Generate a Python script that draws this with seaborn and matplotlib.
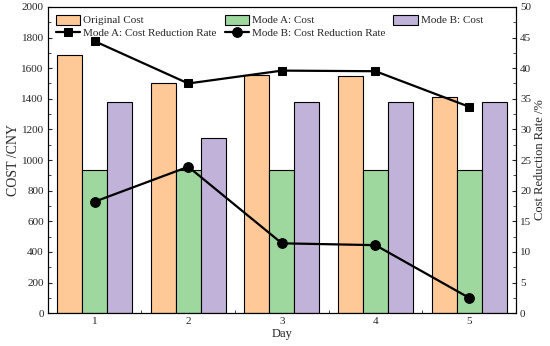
import matplotlib
matplotlib.use('Agg')
import matplotlib.pyplot as plt
from matplotlib.patches import Patch
from matplotlib.ticker import MultipleLocator
import numpy as np
import pandas as pd
import seaborn as sns

# data
days = ['1', '2', '3', '4', '5']
original_cost = [1686, 1500, 1556, 1549, 1412]
mode_a_cost = [935, 935, 935, 935, 935]
mode_b_cost = [1376, 1144, 1376, 1376, 1376]
mode_a_rate = [44.4, 37.5, 39.6, 39.5, 33.7]
mode_b_rate = [18.2, 23.9, 11.4, 11.1, 2.5]

series_names = ['Original Cost', 'Mode A: Cost', 'Mode B: Cost']
colors = ['#FEC897', '#9ED89E', '#C1B2D9']

df = pd.DataFrame({
    'Day': days * 3,
    'Cost': original_cost + mode_a_cost + mode_b_cost,
    'Series': sum([[s] * len(days) for s in series_names], []),
})

sns.set_theme(style='ticks')
plt.rcParams['font.family'] = ['Liberation Serif', 'DejaVu Serif']
plt.rcParams['xtick.direction'] = 'in'
plt.rcParams['ytick.direction'] = 'in'

fig = plt.figure(figsize=(5.5, 3.46), dpi=100)
ax = fig.add_axes([0.087, 0.095, 0.851, 0.885])

sns.barplot(data=df, x='Day', y='Cost', hue='Series', palette=colors,
            edgecolor='black', linewidth=0.8, saturation=1, ax=ax,
            width=0.8, legend=False)
ax.set_xlim(-0.5, 4.5)
ax.set_ylim(0, 2000)
ax.yaxis.set_major_locator(MultipleLocator(200))
ax.yaxis.set_minor_locator(MultipleLocator(100))
ax.set_xticks(np.arange(len(days)) + 0.5, minor=True)
ax.set_xlabel('Day', fontsize=9, labelpad=1)
ax.set_ylabel('COST /CNY', fontsize=10, labelpad=1)
ax.tick_params(labelsize=8, length=3, width=0.8, pad=3)
ax.tick_params(which='minor', length=2, width=0.6)

ax2 = ax.twinx()
x_pos = np.arange(len(days))
sns.lineplot(x=x_pos, y=mode_a_rate, ax=ax2, color='black', marker='s',
             markersize=6, linewidth=1.6, markeredgecolor='black',
             label='Mode A: Cost Reduction Rate', legend=False)
sns.lineplot(x=x_pos, y=mode_b_rate, ax=ax2, color='black', marker='o',
             markersize=7, linewidth=1.6, markeredgecolor='black',
             label='Mode B: Cost Reduction Rate', legend=False)
ax2.set_ylim(0, 50)
ax2.yaxis.set_major_locator(MultipleLocator(5))
ax2.yaxis.set_minor_locator(MultipleLocator(2.5))
ax2.set_ylabel('Cost Reduction Rate /%', fontsize=9, labelpad=2)
ax2.tick_params(labelsize=8, length=3, width=0.8, pad=3)
ax2.tick_params(which='minor', length=2, width=0.6)
ax.set_xticklabels(days)

for a in (ax, ax2):
    for sp in a.spines.values():
        sp.set_linewidth(0.8)
        sp.set_color('black')

# legend: bars in row 1, lines in row 2
bar_handles = [Patch(facecolor=c, edgecolor='black', linewidth=0.8) for c in colors]
line_handles, line_labels = ax2.get_legend_handles_labels()
handles = [bar_handles[0], line_handles[0], bar_handles[1], line_handles[1], bar_handles[2]]
labels = [series_names[0], line_labels[0], series_names[1], line_labels[1], series_names[2]]
ax2.legend(handles, labels, ncol=3, loc='upper left', bbox_to_anchor=(0.0, 1.0),
           frameon=False, fontsize=8, handlelength=2.2, handleheight=1.0,
           columnspacing=0.7, handletextpad=0.3, labelspacing=0.2,
           borderaxespad=0.3)

fig.savefig('out.png', dpi=100)
